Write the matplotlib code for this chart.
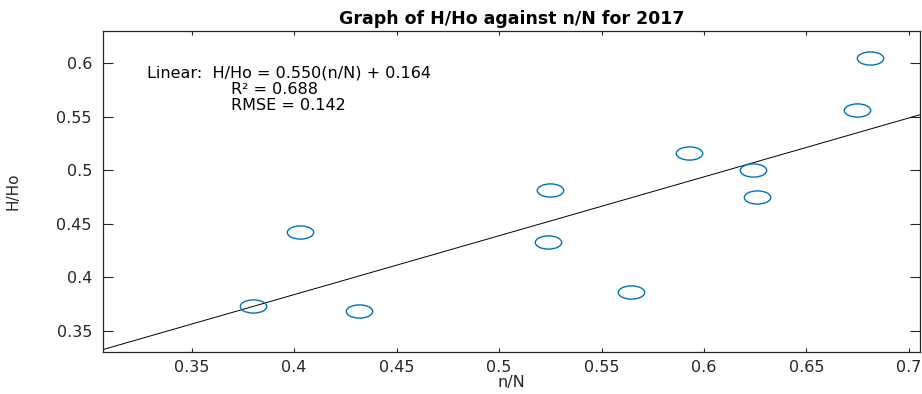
import numpy as np
import matplotlib
matplotlib.use("Agg")
import matplotlib.pyplot as plt
from matplotlib.path import Path
from matplotlib.transforms import Affine2D

# ---- data ----
n_over_N = [0.3797, 0.4029, 0.4315, 0.5239, 0.5248, 0.5646, 0.5927, 0.6239, 0.6258, 0.6748, 0.6812]
H_over_Ho = [0.3733, 0.4425, 0.3687, 0.4332, 0.4817, 0.3860, 0.5159, 0.5000, 0.4752, 0.5565, 0.6047]
fit_slope = 0.550
fit_intercept = 0.164
fit_r2 = 0.688
fit_rmse = 0.142
x_ticks = [0.35, 0.4, 0.45, 0.5, 0.55, 0.6, 0.65, 0.7]
x_ticklabels = ["0.35", "0.4", "0.45", "0.5", "0.55", "0.6", "0.65", "0.7"]
y_ticks = [0.35, 0.4, 0.45, 0.5, 0.55, 0.6]
y_ticklabels = ["0.35", "0.4", "0.45", "0.5", "0.55", "0.6"]
x_limits = (0.3067, 0.7054)
y_limits = (0.3304, 0.6302)

plt.rcParams['font.family'] = ['DejaVu Sans']
axis_col = (0.15, 0.15, 0.15)
blue = (0.0, 0.447, 0.741)

fig = plt.figure(figsize=(9.22, 3.94), dpi=100)
ax = fig.add_axes([103 / 922, 1 - 352 / 394, (920 - 103) / 922, (352 - 31) / 394])

# elliptical marker (wider than tall)
ellipse = Path.unit_circle().transformed(Affine2D().scale(2.0, 1.0))
ax.plot(n_over_N, H_over_Ho, linestyle='none', marker=ellipse, markersize=19,
        markerfacecolor='none', markeredgecolor=blue, markeredgewidth=1.0, zorder=3)

xl = np.array(x_limits)
ax.plot(xl, fit_slope * xl + fit_intercept, color='black', linewidth=0.7, zorder=2)

ax.set_xlim(*x_limits)
ax.set_ylim(*y_limits)
ax.set_xticks(x_ticks)
ax.set_xticklabels(x_ticklabels)
ax.set_yticks(y_ticks)
ax.set_yticklabels(y_ticklabels)
ax.tick_params(axis='x', direction='in', length=3, width=0.8, colors=axis_col,
               labelsize=11.5, top=True, pad=6)
ax.tick_params(axis='y', direction='in', length=7, width=0.8, colors=axis_col,
               labelsize=11.5, right=True, pad=8)
for s in ax.spines.values():
    s.set_color(axis_col)
    s.set_linewidth(0.9)

ax.set_title("Graph of H/Ho against n/N for 2017", fontsize=12.5, fontweight='bold',
             pad=5, color='black')
ax.set_xlabel("n/N", fontsize=11.5, color=axis_col, labelpad=0)
ax.set_ylabel("H/Ho", fontsize=11, color=axis_col, labelpad=26)

ax.text(147, 394 - 77, "Linear:  H/Ho = %.3f(n/N) + %.3f" % (fit_slope, fit_intercept),
        transform=None, fontsize=11.5, va='baseline', ha='left', color='black')
ax.text(231, 394 - 94, "R\u00b2 = %.3f" % fit_r2,
        transform=None, fontsize=11.5, va='baseline', ha='left', color='black')
ax.text(231, 394 - 110, "RMSE = %.3f" % fit_rmse,
        transform=None, fontsize=11.5, va='baseline', ha='left', color='black')

fig.savefig("out.png", dpi=100)
